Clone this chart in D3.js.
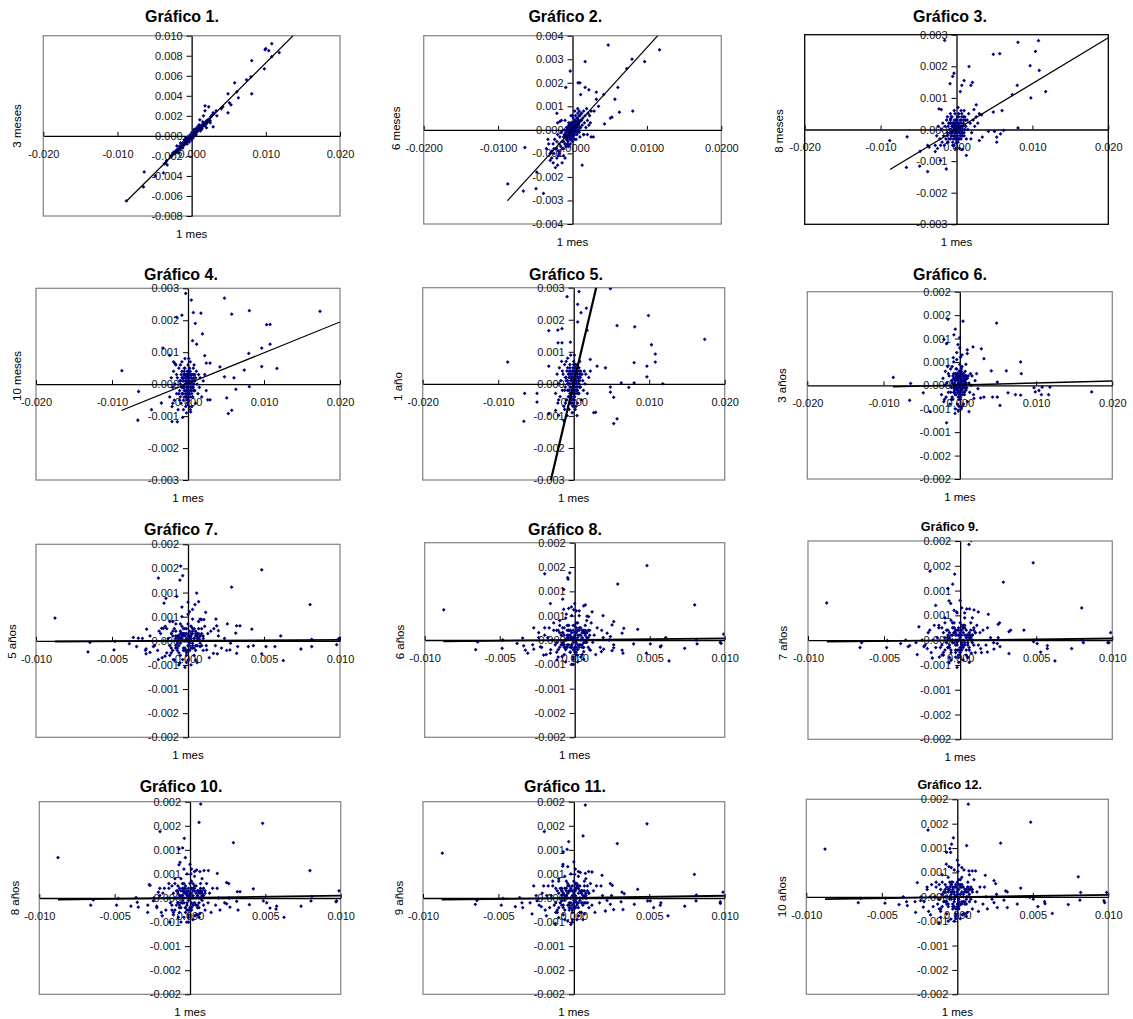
<!DOCTYPE html>
<html>
<head>
<meta charset="utf-8">
<script src="https://cdn.jsdelivr.net/npm/d3@7"></script>
<style>
  body { margin: 0; background: #fff; }
  svg { display: block; }
  text { font-family: "Liberation Sans", Arial, sans-serif; }
</style>
</head>
<body>
<svg id="chart" width="1133" height="1019"></svg>
<script>
// Daily changes of the yield curve against the 1-month rate.
// All values are in basis points (1 bp = 0.0001).

const chartTitles = ["Gráfico 1.", "Gráfico 2.", "Gráfico 3.", "Gráfico 4.", "Gráfico 5.", "Gráfico 6.",
  "Gráfico 7.", "Gráfico 8.", "Gráfico 9.", "Gráfico 10.", "Gráfico 11.", "Gráfico 12."];
const yTitles = ["3 meses", "6 meses", "8 meses", "10 meses", "1 año", "3 años",
  "5 años", "6 años", "7 años", "8 años", "9 años", "10 años"];
const xTitle = "1 mes";

// tick positions (bp) and their printed labels
const xTicksWide = [-200, -100, 0, 100, 200];
const xLabelsWide = ["-0.020", "-0.010", "0.000", "0.010", "0.020"];
const xLabelsWide4 = ["-0.0200", "-0.0100", "0.0000", "0.0100", "0.0200"];
const xTicksNarrow = [-100, -50, 0, 50, 100];
const xLabelsNarrow = ["-0.010", "-0.005", "0.000", "0.005", "0.010"];

const yTicks3m = [-80, -60, -40, -20, 0, 20, 40, 60, 80, 100];
const yLabels3m = ["-0.008", "-0.006", "-0.004", "-0.002", "0.000", "0.002", "0.004", "0.006", "0.008", "0.010"];
const yTicks6m = [-40, -30, -20, -10, 0, 10, 20, 30, 40];
const yLabels6m = ["-0.004", "-0.003", "-0.002", "-0.001", "0.000", "0.001", "0.002", "0.003", "0.004"];
const yTicks3 = [-30, -20, -10, 0, 10, 20, 30];
const yLabels3 = ["-0.003", "-0.002", "-0.001", "0.000", "0.001", "0.002", "0.003"];
const yTicksHalf = [-20, -15, -10, -5, 0, 5, 10, 15, 20];
const yLabelsHalf = ["-0.002", "-0.002", "-0.001", "-0.001", "0.000", "0.001", "0.001", "0.002", "0.002"];

// observations as flat [x, y, x, y, ...] lists, x = 1 mes
const g1 = [-88,-65, -65,-51, -64,-36, -49,-40, -38,-37, -37,-28, -34,-25, -28,-21, -25,-17, -35,-27, -33,-29,
  108,92, 99,86, 100,87, 104,85, 118,83, 108,79, 81,75, 98,67, 74,56, 80,59, 58,53, 61,44, 63,38, 81,42, 49,42,
  51,33, 53,31, 49,23, 42,29, 40,27, 33,25, 29,23, 34,20, 18,30, 23,29, 18,25, 11,16, 29,9, 16,20, 25,13, 20,8,
  -28,-20, -26,-19, -25,-17, -24,-18, -23,-16, -22,-17, -21,-15, -20,-14, -19,-15, -18,-13, -17,-12, -16,-13,
  -15,-11, -14,-10, -13,-11, -12,-9, -11,-8, -10,-8, -9,-7, -8,-6, -7,-5, -6,-5, -5,-4, -4,-3, -3,-2, -2,-2,
  -1,-1, 0,0, 1,0, 2,1, 3,2, 4,3, 5,4, 6,4, 7,5, 8,6, 9,6, 10,7, 11,9, 12,8, 13,10, 14,10, 15,11, 16,12, 18,13,
  20,15, 22,16, 24,17, 26,19, 28,21, 30,22, -20,-10, -15,-7, -10,-4, -5,-1, 0,3, 5,7, 10,11, 15,14, -18,-17,
  -12,-12, -6,-8, 0,-4, 6,1, 12,5, 18,10, 24,14, -8,-2, 3,6, 8,9, 2,-2, -3,-6, 20,12, 25,15, 14,7,
  -15,-12, -14,-11, -13,-9, -12,-10, -11,-7, -10,-9, -9,-6, -8,-7, -7,-4, -6,-6, -5,-3, -4,-4, -3,-1, -2,-3,
  -1,0, 0,-1, 1,1, 2,0, 3,3, 4,2, 5,5, 6,3, 7,6, 8,5, 9,8, 10,6, 11,7, 12,10, 13,8, 14,11, -12,-7, -9,-8,
  -6,-3, -3,-4, 0,1, 3,1, 6,6, 9,5, 12,7, -10,-6, -7,-7, -4,-2, -1,-2, 2,2, 5,2, 8,7, 11,10, -16,-10, 16,10,
  -8,-4, 4,5, -2,1, 1,-2];
const c1 = [-10,-7, -9,-5, -8,-5, -7,-6, -6,-4, -5,-5, -4,-3, -3,-3, -2,-1, -1,-1, 0,0.5, 1,0.5, 2,2, 3,2,
  4,4, 5,3, 6,5, 7,4, 8,6, 9,7, 10,8, -9,-6, -7,-5, -5,-3, -3,-2, -1,0, 1,1, 3,3, 5,4, 7,6, 9,6, -6,-5,
  -2,-2, 2,1, 6,4, -4,-4, 0,-0.5, 4,3, -8,-7, 8,5, -20,-16, -17,-14, -14,-12, 17,11, 21,14, 27,20];

const g2 = [-87,-23, -66,-26, -49,-25, -39,-27, -48,-18, -64,-7.5, 13,-15, 48,36, 117,34, 80,30, 97,29, 73,26,
  17,29, -3,25, -9,18, 7.5,20, 10,20, 17,18, 22,17, 61,18, 57,13, 42,15, 32,16, 11,15, 63,7.5, 81,8, 51,5,
  53,5.4, 43,2.5, 29,8, 35,10, 32,13, -21,7, -17,3.5, -33,-4, -32,-6, -26,-14, -23,-16, -14,-14, 28,-3, 25,-3,
  15,-2, -7,-6, -19,-11, -21,-12, -30,-10, -28,-12, -25,-8, -35,-8, -30,-13, -20,-15, -18,-10, -12,-11, -10,-12,
  -28,-9, -26,-6, -25,-10, -24,-4, -22,-8, -21,-5, -20,-2, -19,-9, -18,-6, -17,-3, -16,-7, -15,-1, -14,-5,
  -13,-8, -12,-3, -11,0, -10,-6, -9,-2, -8,-4, -7,1, -6,-3, -5,-7, -4,0, -3,-2, -2,2, -1,-4, 0,1, 0,-2, 1,3,
  2,-1, 3,4, 4,0, 5,2, 6,5, 7,-1, 8,3, 9,6, 10,1, 11,4, 12,7, 13,2, 14,5, 15,8, 16,3, 17,6, 18,1, 19,9, 20,4,
  21,7, 22,2, 23,6, 24,3, 25,8, -20,3, -10,4, 0,6, 10,-3, 20,-2, -15,4, 5,-4, 15,-2, -5,3, 3,8, 7,9, -2,6,
  -12,-5, -11,-2, -10,-6, -9,-1, -8,-4, -7,0, -6,-5, -5,-2, -4,1, -3,-4, -2,-1, -1,2, 0,-3, 0,0, 1,3, 2,-2,
  3,1, 4,4, 5,-1, 6,2, 7,5, 8,0, 9,3, 10,6, 11,1, 12,4, -10,-3, -7,-3, -4,-3, -1,-1, 2,1, 5,2, 8,3, 11,4,
  -8,1, -5,2, -2,3, 1,5, 4,6, 7,7, -6,-7, -3,-6, 0,-5, 3,-4, 6,-2, 9,-1, -12,-8, 12,7, -9,-7, 9,8];
const c2 = [-8,-3, -7,-2, -6,-3, -5,-1, -4,-2, -3,0, -2,-1, -1,1, 0,-1, 1,0, 2,2, 3,0, 4,2, 5,1, 6,3, 7,2,
  8,4, -7,-4, -5,-3, -3,-2, -1,-2, 1,2, 3,2, 5,3, 7,4, -6,0, -4,1, -2,0, 0,2, 2,-1, 4,0, 6,1, -8,-1, 8,2,
  -3,-4, 3,-2, -1,3, 1,-3, 0,0.5, -2,2];

const g3 = [-15.6,28.2, 48.5,23.8, 57,24, 81,27.6, 108,28.1, 104,24.7, 97,20.2, 109,18.7, 117.5,12, 98,10,
  80,14, 73.5,11, 16.5,19.9, -3.3,17.8, -5,16.8, -8.5,14.5, 10,15.5, 21,14.9, 7,14, 19,14, 5,12, 26,7.8,
  23,6.3, 33,4.6, 48.5,5.5, 60,6, -7.7,3.4, -20,6.3, -23,6.5, 42,-0.6, 50,-0.6, 58,-1.4, 62,-0.3, 53,-4,
  53,-2.4, 81,0.5, -65,-2.3, -88,-3.5, -66,-12, -48.5,-11.6, -38,-13.3, -13.4,-12.5, -48,-6.9, -38,-5,
  -36,-5.6, -28,-7, -21,-9.8, 13,-8.2, 19,-3, 30,-3.5, 34,-2.4, 7.7,-6.3,
  -28,-5, -26,-2, -25,-6, -24,1, -22,-3, -21,-5, -20,0, -19,-4, -18,2, -17,-2, -16,-5, -15,1, -14,-3, -13,3,
  -12,-1, -11,-4, -10,2, -9,0, -8,-3, -7,4, -6,-1, -5,-5, -4,2, -3,-2, -2,5, -1,-1, 0,3, 0,-3, 1,1, 2,-4,
  3,4, 4,-1, 5,2, 6,-3, 7,5, 8,0, 9,3, 10,-2, 11,4, 12,1, 13,-3, 14,3, 15,0, 16,5, 18,2, 20,-1, 22,3, 24,1,
  26,4, 28,2, 30,5, -3,6, 2,7, -8,5, 6,6, -12,4, 10,6, -1,-6, 4,-6,
  -12,-2, -11,1, -10,-3, -9,0, -8,-1, -7,2, -6,-2, -5,1, -4,-3, -3,0, -2,2, -1,-1, 0,0, 0,3, 1,-2, 2,1,
  3,-1, 4,2, 5,0, 6,3, 7,-1, 8,1, 9,2, 10,-1, 11,3, 12,1, -10,2, -7,-2, -4,1, -1,3, 2,-3, 5,3, 8,-2, 11,0,
  -8,3, -5,-4, -2,-3, 1,4, 4,-3, 7,4, -6,4, -3,-5, 0,-4, 3,5, 6,-2, 9,4, -12,-4, 12,3];
const c3 = [-8,-1, -7,0, -6,1, -5,-1, -4,0, -3,1, -2,-1, -1,0, 0,1, 1,-1, 2,0, 3,1, 4,-1, 5,0, 6,1, 7,0,
  8,1, -7,-2, -5,2, -3,-2, -1,2, 1,-2, 3,2, 5,-2, 7,2, -6,-1, -4,2, -2,0.5, 0,-2, 2,2, 4,1, 6,-1, -8,2,
  8,-1, -3,3, 3,-3, -1,-3, 1,3, 0,0.5, -2,1.5];

const g4 = [-3,28.4, 4.4,26.3, 48,26.9, 7,22.4, 17,22.2, 57.5,21.9, 80.7,23, 173.7,22.8, -8,21.6, -15,20.9,
  9.6,19, 103.5,18.6, 108,18.7, 19,15.7, 6,13.6, 11.4,12.5, -33,11.3, -24,9, 22,8.9, 80,9.6, 97,11.3,
  108,12.5, 97,5.5, 117,4.9, 74,4.4, 42,5.4, 60.5,2, 48,2.3, -87,4.2, -65,-2.3, -66,-11.3, -48,-8, -35,-5.9,
  -21,-11.7, -14,-11.8, -7,-10.4, 3.5,-8.7, 53,-9.2, 57.5,-8.2, 51,-4.3, 63,-1.6, 80.7,-0.8, 26,-4.9,
  29,-4.9, 24,6.6, 29,6.6, -19,7, -17,6.4,
  -24,-4, -22,2, -21,-7, -20,-1, -19,4, -18,-5, -17,0, -16,6, -15,-3, -14,2, -13,-8, -12,5, -11,-2, -10,1,
  -9,-6, -8,7, -7,-1, -6,3, -5,-4, -4,8, -3,-7, -2,0, -1,4, 0,-3, 0,6, 1,-5, 2,2, 3,-8, 3,7, 4,-1, 5,3,
  6,-4, 7,5, 8,-2, 9,1, 10,-6, 11,4, 12,0, 13,-3, 14,3, 15,-1, 16,2, 18,-4, 20,1, 22,3, 24,-2, -6,-8,
  -2,-9, 2,-7, -10,6, -5,5, 1,8, 5,-7, -15,3, -20,-6, 8,6, -1,-6, -3,3, 2,4, -8,-3, 6,0,
  -12,-3, -11,1, -10,-4, -9,3, -8,-1, -7,2, -6,-5, -5,4, -4,-2, -3,1, -2,-4, -1,3, 0,0, 0,-2, 1,2, 2,-3,
  3,4, 4,-1, 5,1, 6,-4, 7,3, 8,0, 9,-2, 10,2, -10,0, -7,-3, -4,2, -1,-1, 2,0, 5,-2, 8,2, -8,4, -5,-1,
  -2,1, 1,-4, 4,3, 7,-1, -6,1, -3,-3, 0,4, 3,-2, 6,1, 9,3, -11,-5, -1,-5, 2,5, -4,5, 1,0, -2,-1];
const c4 = [-8,-1, -7,1, -6,2, -5,-2, -4,0, -3,2, -2,-2, -1,1, 0,2, 1,-1, 2,1, 3,-2, 4,0, 5,2, 6,-1, 7,1,
  8,-2, -7,-3, -5,3, -3,-3, -1,3, 1,-3, 3,3, 5,-3, 7,3, -6,-1, -4,3, -2,0.5, 0,-3, 2,3, 4,2, 6,1, -8,2,
  8,1, -3,-4, 3,-4, -1,-4, 1,4, 0,0.5, -2,2.5];

const g5 = [48.6,29.7, -8.8,27.2, 7,28.8, 5.3,24.8, 9.7,22.2, 16.8,23.6, 5.3,19.3, 17.7,16.7, 57.4,18.2,
  80.8,17.8, 99,21.3, 173.5,13.9, 103,12.2, 108,9.3, 108,6.8, 80,6.6, 97,5.5, 97,2.2, 118,0, 80,0.3,
  73,-1.1, 63,0.3, 48.6,-1, 48.6,-2.6, 53,-4.2, 53,-12.4, 57.4,-10.9, 26.5,-9, 29,-8.9, 42,5, 31,5.5,
  22,7.6, -21,16.8, -15.5,17.2, -33,16.6, -20.7,12.8, -15.5,12.8, -4.4,13, -87.4,6.8, -33,5.5, -65,-3,
  -66,-11.7, -48.6,-3, -48.6,-5.7, -33,-9.4, -24,-8.3, -8.8,-9.9, 4.4,-9.9, -13,-11.5, -20,-9.8,
  -24,-3, -22,3, -21,-6, -20,0, -19,5, -18,-4, -17,1, -16,7, -15,-2, -14,3, -13,-7, -12,6, -11,-1, -10,2,
  -9,-5, -8,8, -7,0, -6,4, -5,-3, -4,9, -3,-6, -2,1, -1,5, 0,-2, 0,7, 1,-4, 2,3, 3,-7, 3,6, 4,0, 5,4,
  6,-3, 7,5, 8,-1, 9,2, 10,-5, 11,3, 12,1, 13,-2, 14,4, 15,0, 16,3, 18,-3, 20,2, 22,4, -6,-8, -2,-9,
  2,-8, -10,7, -5,6, 1,9, 5,-6, -15,4, -20,-5, 8,7, -1,-7, -3,2, 2,5, -8,-2, 6,1, -12,-8,
  -12,-2, -11,2, -10,-5, -9,4, -8,0, -7,3, -6,-4, -5,5, -4,-1, -3,2, -2,-5, -1,4, 0,1, 0,-3, 1,3, 2,-2,
  3,5, 4,0, 5,2, 6,-3, 7,4, 8,1, 9,-1, 10,3, -10,1, -7,-2, -4,3, -1,0, 2,1, 5,-1, 8,3, -8,5, -5,0, -2,2,
  1,-5, 4,4, 7,0, -6,2, -3,-2, 0,6, 3,-1, 6,2, 9,4, -11,-6, -1,-6, 2,6, -4,-6, 1,-1, -2,0];
const c5 = [-8,-2, -7,0, -6,3, -5,-1, -4,1, -3,3, -2,-3, -1,0, 0,2, 1,-2, 2,0, 3,-3, 4,1, 5,3, 6,0, 7,2,
  8,-1, -7,-4, -5,2, -3,-4, -1,4, 1,-4, 3,2, 5,-2, 7,-3, -6,-2, -4,4, -2,1, 0,-4, 2,4, 4,-2, 6,2, -8,1,
  8,3, -3,1, 3,3, -1,-2, 1,1, 0,-1, -2,3];

const g6 = [48.3,13.3, 4.2,13.7, -15.5,14.1, -5.9,12, -0.2,10.2, -2.4,8.7, -20.8,9.8, -7.7,10.8, -17.3,8.9,
  17.3,8.2, 9.8,7.6, 28.2,7.8, 31.7,5.7, 9.8,6.8, -8.5,5.9, 79.8,5, 80.7,2.5, 61,3.1, 41.3,3.1, 49.2,0.7,
  -87.2,1.7, -64.5,0.4, -65.8,-3.2, -47.9,-1.6, -39,-5.6, -17.3,-8, -6.3,-6, 12,-5.6, 52.7,-4.3, 43,-2.5,
  49.2,-2.5, 63.2,-1.6, 73,-2, 79.8,-2.1, 97.3,-0.5, 99,-1.4, 103.8,-1.1, 107,-2, 108,-0.4, 116.5,-2,
  118.2,-0.4, 173,-1.4, 27.3,-2.7, 31.7,-2.5, 18.6,-2.8, 23.8,-0.7,
  -24,-2, -22,1.5, -21,-3.5, -20,0, -19,3, -18,-2.5, -17,0.5, -16,4, -15,-1.5, -14,2, -13,-4, -12,3.5,
  -11,-0.5, -10,1, -9,-3, -8,5, -7,0, -6,2.5, -5,-2, -4,5.5, -3,-4, -2,0.5, -1,3, 0,-1.5, 0,4.5, 1,-3, 2,2,
  3,-4.5, 3,4, 4,0, 5,2.5, 6,-2, 7,3, 8,-1, 9,1.5, 10,-3.5, 11,2, 12,0.5, 13,-1.5, 14,2.5, 15,0, 16,2,
  18,-2, 20,1, 22,2.5, -6,-5, -2,-5.5, 2,-5, -10,4, -5,3.5, 1,6, 5,-4, -15,2.5, -20,-3, 8,4.5, -1,-4.5,
  -3,1.5, 2,3, -8,-1.5, 6,0.5, -4,7, 0,8, 3,6.5,
  -12,-1.5, -11,1, -10,-2.5, -9,2, -8,0, -7,1.5, -6,-2, -5,2.5, -4,-0.5, -3,1, -2,-2.5, -1,2, 0,0.5, 0,-1.5,
  1,1.5, 2,-1, 3,2.5, 4,0, 5,1, 6,-1.5, 7,2, 8,0.5, 9,-0.5, 10,1.5, -10,0.5, -7,-1, -4,1.5, -1,0, 2,0.5,
  5,-0.5, 8,1.5, -8,2.5, -5,0, -2,1, 1,-2.5, 4,2, 7,0, -6,1, -3,-1, 0,3, 3,-0.5, 6,1, 9,2, -11,-3, -1,-3,
  2,3.5, -4,3.5, 1,-0.5, -2,-0.5];
const c6 = [-8,-0.5, -7,0.5, -6,1.5, -5,-1, -4,0, -3,1.5, -2,-1, -1,0.5, 0,1.5, 1,-0.5, 2,1, 3,-1, 4,0,
  5,1.5, 6,-0.5, 7,1, 8,-1, -7,-1.5, -5,2, -3,-1.5, -1,2, 1,-1.5, 3,2, 5,-1.5, 7,2, -6,-0.5, -4,2, -2,0.5,
  0,-1.5, 2,2, 4,1, 6,0.5, -8,1.5, 8,0.5, -3,2.5, 3,-2, -1,-2, 1,2.5, 0,0, -2,1.5];

const g7 = [-87.5,4.7, -4.8,15.5, -3.5,13.5, -5.3,12.6, -19.5,13, -14.5,8.8, -15.8,7.8, -7.5,9.2, 5.7,9.9,
  7,8.1, 4.6,7.5, 28.7,11.1, 48.5,14.7, 80.3,7.5, 11.6,5.9, 9,4.4, 10.5,4.4, 18.4,4.5, 25.9,3.5, 32,3.1,
  34.2,3.1, 42,2.4, 31.4,1.6, 61,1, 81.4,0.3, 81.4,-1.2, 99,0.35, 97.8,-0.8, 99.6,0.55, 74.3,-1.7, 62.7,-4.1,
  48.5,-2.7, 51.3,-1.2, 57.2,-1.2, 43,-1, 39.7,-1.2, 32.7,-1.2, 32,-2.6, 25.4,-2, 27.6,-1.9, 19.3,-2.7,
  -27.2,2.4, -32.7,0.55, -36,0.7, -38.6,-0.6, -48,-0.1, -48.7,-1.9, -64.5,-0.35, -65.8,-2.3, -33.8,-1.2,
  -27.6,-1.7, -27.6,-2.7, -22.8,-1.2, -25,-2.4, -19.5,-3.9, -15.1,-3.2, -9.6,-3.9, -5.3,-4.6, -3.5,-3.9,
  7.9,-1.2, 12.3,-1.9, 16.7,-2.6, -17.3,2.6, -16.2,2.6, 18.9,3.1, 20,2.1,
  -20,-2, -18,1.5, -17,-3.5, -16,0, -15,3, -14,-2.5, -13,0.5, -12,4, -11,-1.5, -10,2, -9,-4, -8,3.5,
  -7,-0.5, -6,1, -5,-3, -4,5, -3,0, -2,2.5, -1,-2, 0,5.5, 0,-4, 1,0.5, 2,3, 3,-1.5, 3,4.5, 4,-3, 5,2,
  6,-4.5, 7,4, 8,0, 9,2.5, 10,-2, 11,3, 12,-1, 13,1.5, 14,-3.5, 15,2, -6,-5, -2,-5.5, 2,-5, -10,4, -5,3.5,
  1,6, 5,-4, -14,2.5, 8,4.5, -1,-4.5, -3,1.5, 2,1, -8,-1.5, 6,0.5, -4,7, 0,8, 3,6.5, -22,-1, -25,1, 18,-1,
  20,1, 17,2.5, -19,2, 10,0.5, -12,-3, -30,0.5, -28,-2, 24,0.5, 28,-0.5, 22,-1.5,
  -12,-1, -11,1.5, -10,-2, -9,2.5, -8,0.5, -7,1, -6,-2.5, -5,2, -4,0, -3,1.5, -2,-2, -1,2.5, 0,0, 0,-1,
  1,1, 2,-1.5, 3,2, 4,0.5, 5,1.5, 6,-1, 7,2.5, 8,0, 9,-1, 10,1, -10,1, -7,-1.5, -4,1, -1,0.5, 2,0, 5,-1,
  8,1, -8,2, -5,0.5, -2,1.5, 1,-2, 4,2.5, 7,0.5, -6,0.5, -3,-1.5, 0,3.5, 3,-1, 6,1.5, 9,1.5, -11,-2.5,
  -1,-3, 2,3, -4,3, 1,-0.5, -2,0];
const c7 = [-8,-1, -7,0, -6,1, -5,-0.5, -4,0.5, -3,1, -2,-1.5, -1,0, 0,1, 1,-1, 2,0.5, 3,-0.5, 4,0.5, 5,1,
  6,-1, 7,0.5, 8,-0.5, -7,-2, -5,1.5, -3,-2, -1,1.5, 1,-2, 3,1.5, 5,-2, 7,1.5, -6,-1, -4,1.5, -2,0, 0,-2,
  2,1.5, 4,-1.5, 6,1, -8,1, 8,1, -3,2.5, 3,2.5, -1,-2.5, 1,2, 0,0, -2,1];

const g8 = [-87.3,6.2, -20,13.6, -3.3,13.8, -4.7,12.8, -4.4,12.5, -7.3,10.4, -8,8.4, -16.2,7.5, -7.3,6.3,
  -5.6,5.3, 6,7, 7.1,7.2, -2.2,6.8, -0.7,6.2, 28.7,11.5, 48.2,15.3, 80,7.2, 11.6,5.8, 18.9,5, 9.3,4.8,
  8.2,4.9, 26,3.8, 24.9,3.1, 32.7,2.4, 31.6,1.4, 42,2.2, 23.8,0.7, 21.6,1.4, 60.7,0.5, 99.3,1.2, 97.1,-0.5,
  97.6,-0.7, 80.9,0, 81.6,-0.8, 73.3,-1.7, 62.9,-4.3, 47.8,-2.7, 57.1,-1.4, 57.6,-1.2, 50.4,-0.8,
  39.3,-0.8, 31.6,-2.1, 32.2,-2.7, 26,-1.6, 17.8,-2.4, 19.3,-1.9, 24.9,-2.2, -64.7,-0.4, -66,-2, -48,0,
  -48.4,-1.7, -38.4,-0.7, -34.7,0.4, -34,-1.2, -32.9,-2.1, -31.3,-2.7, -27.3,-1.9, -27.3,2.5, -24,1.5,
  -22.9,-1.4, -20.7,-3.1, -16.2,-2.7, -11.8,-4.1, -8.4,-3.4, 1.6,-3.1, 6,-2.4, 10.4,-2.1,
  -22,-1.5, -20,1, -19,-3, -18,0.5, -17,2.5, -16,-2, -15,0, -14,3.5, -13,-1, -12,2, -11,-3.5, -10,3,
  -9,-1, -8,1.5, -7,-3, -6,4.5, -5,0.5, -4,2, -3,-2.5, -2,5, -1,-4, 0,1, 0,-2, 1,3.5, 2,-1, 3,5, 4,-3.5,
  5,1.5, 6,-4, 7,3, 8,0.5, 9,2, 10,-2, 11,3.5, 12,-0.5, 13,1, 14,-3, 15,2.5, -6,-4.5, -2,-5, 2,-4.5,
  -10,4, -5,3, 1,6, 5,-3, -14,2, 8,4, -1,-5, -3,1, 2,2, -8,-1, 6,0, -4,6.5, 0,7.5, 3,6, -24,0.5, 17,-1.5,
  19,0.5, 18,2, -20,2.5, 10,1, -12,-2.5, -28,-1, 23,0, 26,-1,
  -12,-0.5, -11,2, -10,-1.5, -9,1, -8,-0.5, -7,2.5, -6,-2, -5,1, -4,-1, -3,2, -2,-1.5, -1,3, 0,0.5,
  0,-1.5, 1,1.5, 2,-2, 3,1, 4,0, 5,2, 6,-1.5, 7,1.5, 8,-0.5, 9,0.5, 10,2, -10,1.5, -7,-1, -4,0.5,
  -1,-0.5, 2,0.5, 5,-1, 8,1.5, -8,2.5, -5,-1.5, -2,0.5, 1,-2.5, 4,2.5, 7,-0.5, -6,0, -3,-2.5, 0,3,
  3,-1.5, 6,2, 9,-1.5, -11,-2, -1,-3.5, 2,3.5, -4,3, 1,0, -2,-1];
const c8 = [-8,-0.5, -7,1, -6,0, -5,-1, -4,1, -3,0.5, -2,-1, -1,0.5, 0,1.5, 1,-0.5, 2,1, 3,-1, 4,1, 5,0.5,
  6,-0.5, 7,1, 8,0, -7,-1.5, -5,2, -3,-1.5, -1,2, 1,-1.5, 3,2, 5,-1.5, 7,2, -6,-1.5, -4,2, -2,0.5, 0,-2.5,
  2,2, 4,-1, 6,1.5, -8,1.5, 8,1.5, -3,2, 3,2.5, -1,-2, 1,2.5, 0,0, -2,1.5];

const g9 = [-87.7,7.5, 5.8,19.3, 7.3,20.1, 48,15.6, 28.4,11.7, -19.8,13.9, -3.6,13.3, -4.9,11.3, -8,10.4,
  -7.3,7.9, -6.2,7.4, -16.1,7, 79.9,6.5, 4.3,6.3, 6.2,6.3, 9.1,6.1, 11.9,5.7, -2.3,5.7, 18.5,5.2, 25,3.2,
  25.9,3.5, 33.2,2, 32.1,1.7, 41.9,2, 98.9,1.5, 97.8,-0.5, 97.1,-0.5, 81,-0.5, 80.3,0, 73.3,-1.7,
  62.3,-4.2, 48.3,-0.3, 50.6,-0.7, 57.3,-1.1, 57.3,-1.7, 52.9,-2.4, 24.4,-0.7, 26.2,-1.3, 32.1,-2.7,
  22.2,-1.8, 13.5,-1.7, 17.9,-2.4, -65.8,-1.5, -64.7,-0.5, -48.3,-1.5, -47.9,-0.1, -39.1,-0.7, -35.8,0,
  -34.1,-1.3, -33.2,-1.1, -28.2,-2.9, -27.1,2.7, -23.8,-1.3, -21.6,-1.7, -18.3,-3.6, -13.7,-3.4,
  -7.3,-4.6, -3,-3.4, 4.7,-3.4, 7.3,-2.6,
  -23,-1, -21,1.5, -19,-2.5, -18,0, -17,3, -16,-1.5, -15,0.5, -14,3, -13,-1.5, -12,2.5, -11,-3, -10,3.5,
  -9,-0.5, -8,1, -7,-3.5, -6,4, -5,0, -4,2.5, -3,-2, -2,5.5, -1,-3.5, 0,1.5, 0,-2.5, 1,3, 2,-1.5, 3,4.5,
  4,-3, 5,1, 6,-4.5, 7,3.5, 8,0, 9,2.5, 10,-2.5, 11,3, 12,-1, 13,1.5, 14,-2.5, 15,2, -6,-4, -2,-5.5, 2,-4,
  -10,4.5, -5,3.5, 1,6.5, 5,-3.5, -14,2.5, 8,4.5, -1,-4.5, -3,1.5, 2,2.5, -8,-1.5, 6,0.5, -4,6, 0,8,
  3,5.5, -25,0, 17,-1, 20,0.5, 18,2.5, -20,2, 10,1.5, -12,-3, -29,-0.5, 22,-0.5, 25,0.5,
  -12,-1, -11,1.5, -10,-2, -9,2, -8,0, -7,1.5, -6,-2.5, -5,2.5, -4,-0.5, -3,1, -2,-2, -1,2, 0,0, 0,-1.5,
  1,1, 2,-1, 3,2.5, 4,0.5, 5,1, 6,-2, 7,2, 8,0, 9,-1, 10,1.5, -10,0.5, -7,-1.5, -4,1.5, -1,0, 2,0,
  5,-0.5, 8,1, -8,2, -5,0, -2,1, 1,-2, 4,2, 7,0.5, -6,1, -3,-1, 0,3.5, 3,-1, 6,1.5, 9,2, -11,-2.5, -1,-3,
  2,3, -4,3.5, 1,-0.5, -2,-0.5];
const c9 = [-8,-1.5, -7,0.5, -6,0, -5,-0.5, -4,1.5, -3,0, -2,-1, -1,1, 0,0.5, 1,-1.5, 2,1.5, 3,-0.5, 4,1,
  5,0, 6,-1.5, 7,0, 8,1, -7,-1, -5,1, -3,-2.5, -1,2.5, 1,-1, 3,1, 5,-1, 7,1, -6,-2, -4,2.5, -2,0,
  0,-2, 2,2.5, 4,-2, 6,1, -8,0.5, 8,-0.5, -3,2, 3,3, -1,-2, 1,2, 0,1, -2,2];

const g10 = [-87.6,8.4, 7.1,19.5, 6,15.7, 48.2,15.5, 28.8,11.5, -19.9,13.8, -3.8,12.4, -4.9,10.4, -7.3,10.2,
  -3.1,8.4, -6.6,7.4, -7.3,6.9, 79.6,5.7, 4.4,5.8, 6.6,5.5, 9.3,5.7, 12.2,5.7, 0.7,5, 18.1,5.1, 24.3,3.2,
  25.7,3, 31.4,1.3, 33.2,1.3, 42,1.9, 98.9,1.5, 97.3,-0.6, 96.9,-0.8, 80.8,0.3, 80.3,-0.6, 73.7,-1.7,
  62.4,-4, 48.7,-0.6, 50.9,-1, 57.5,-1.7, 57.1,-2.3, 53.1,-2.1, 39.4,-1.4, 31.9,-2.5, 31,-0.7, 24.3,-1.2,
  26.5,-1.9, 19.9,-2.5, -65.9,-1.5, -64.2,-0.4, -48.7,-1.5, -47.6,-0.1, -39.2,-1.7, -35.8,0.1, -35,-0.9,
  -34.3,-1.9, -28.1,-3, -27,2.8, -24.3,-0.6, -22.1,-1.7, -18.4,-3.7, -13.3,-5, -7.7,-4, -4,-4, 3.3,-3.7,
  6.6,-3.2, -26.5,2.6, -21,1.2,
  -22,-2, -20,0.5, -19,-3, -18,1, -17,2, -16,-2.5, -15,0, -14,3, -13,-1, -12,2.5, -11,-3.5, -10,3,
  -9,-1.5, -8,1, -7,-3, -6,4, -5,0.5, -4,2, -3,-3, -2,5, -1,-4, 0,1, 0,-2.5, 1,3.5, 2,-1.5, 3,4.5,
  4,-3.5, 5,1.5, 6,-4, 7,3, 8,0.5, 9,2, 10,-2.5, 11,3, 12,-1, 13,1, 14,-3, 15,2, -6,-5, -2,-5, 2,-4.5,
  -10,4, -5,3, 1,6, 5,-3.5, -14,2, 8,4, -1,-5, -3,1, 2,2, -8,-1, 6,0, -4,6, 0,7, 3,5.5, -24,0, 17,-1.5,
  19,0, 18,2, -20,2, 10,1, -12,-2.5, -28,-1.5, 23,-1, 26,0,
  -12,-1.5, -11,1, -10,-2.5, -9,1.5, -8,0, -7,2, -6,-2, -5,1.5, -4,-1, -3,2, -2,-2.5, -1,1.5, 0,0.5,
  0,-2, 1,1, 2,-1.5, 3,2, 4,0, 5,1.5, 6,-2, 7,2, 8,-0.5, 9,0.5, 10,1.5, -10,0, -7,-1.5, -4,1, -1,-0.5,
  2,0.5, 5,-1.5, 8,1.5, -8,2.5, -5,-0.5, -2,1, 1,-2.5, 4,2.5, 7,0, -6,0.5, -3,-2, 0,3, 3,-1, 6,1,
  9,-1.5, -11,-3, -1,-3.5, 2,3, -4,3, 1,0, -2,-1];
const c10 = [-8,-1, -7,0.5, -6,1.5, -5,-1, -4,0, -3,1, -2,-1.5, -1,0.5, 0,1, 1,-1, 2,0, 3,-1, 4,1, 5,0.5,
  6,-1, 7,1, 8,0, -7,-2, -5,2, -3,-2, -1,2, 1,-2, 3,1.5, 5,-2, 7,1.5, -6,-1, -4,1.5, -2,0.5, 0,-2.5,
  2,1.5, 4,-1.5, 6,1.5, -8,1.5, 8,1, -3,2.5, 3,2.5, -1,-2.5, 1,2, 0,0, -2,1.5];

const g11 = [-87.2,9.3, 7.6,19.3, 6.1,12.9, 48.5,15.4, 28.8,11.3, -19.6,13.8, -3.4,11.7, -4.5,10.1, -7,9.6,
  -7.2,7, -7.4,6.6, 79.9,4.9, 4.3,5.3, 7.6,5.1, 9.8,5.5, 12,5.4, 0.6,4.9, 18.7,4.7, 24.2,3, 25.5,2.6,
  31.9,1.2, 33.4,0.9, 42.3,1.8, 98.9,1.2, 97.1,-0.8, 97.1,-1.1, 81,-0.6, 81.2,0.6, 73.5,-1.7, 62.4,-3.7,
  48.9,-0.6, 50.7,-0.6, 57.3,-1.5, 57.7,-1, 52.9,-2, 40.1,-1.3, 32.6,-2.4, 31.3,-0.8, 24.2,-1.3,
  26.4,-2.4, 20.9,-2.7, -65.3,-1.3, -64.2,-0.5, -48.1,-1.5, -47,-0.1, -38.8,-1.8, -35.9,0.1, -34.4,-1,
  -33.9,-2, -27.7,-3.3, -26.6,2.5, -24.4,-0.6, -21.5,-1.8, -18.2,-3.7, -12.3,-5.3, -10.1,-4.1, -4.1,-4.8,
  3.2,-3.7, 7,-3.3,
  -23,-1.5, -21,1, -19,-2.5, -18,0.5, -17,2.5, -16,-2, -15,0.5, -14,3.5, -13,-1.5, -12,2, -11,-3, -10,3.5,
  -9,-1, -8,1.5, -7,-3.5, -6,4.5, -5,0, -4,2.5, -3,-2.5, -2,5, -1,-4.5, 0,1.5, 0,-2, 1,3, 2,-1, 3,4.5,
  4,-3, 5,1, 6,-4.5, 7,3.5, 8,0, 9,2.5, 10,-2, 11,3, 12,-1.5, 13,1.5, 14,-3, 15,2.5, -6,-4.5, -2,-5.5,
  2,-4.5, -10,4, -5,3.5, 1,6, 5,-3, -14,2.5, 8,4, -1,-5, -3,1.5, 2,2, -8,-1.5, 6,0.5, -4,6.5, 0,7.5,
  3,5.5, -25,0.5, 17,-1, 19,0.5, 18,2.5, -20,2.5, 10,1, -12,-3, -29,-1, 22,-0.5, 25,0.5,
  -12,-1, -11,1.5, -10,-2, -9,2, -8,0.5, -7,1, -6,-2.5, -5,2, -4,0, -3,1.5, -2,-2, -1,2.5, 0,0, 0,-1,
  1,1.5, 2,-1.5, 3,2, 4,0, 5,1.5, 6,-1, 7,2.5, 8,0, 9,-1, 10,1, -10,1, -7,-1.5, -4,1, -1,0.5, 2,0, 5,-1,
  8,1, -8,2, -5,0.5, -2,1.5, 1,-2, 4,2.5, 7,0.5, -6,0.5, -3,-1.5, 0,3.5, 3,-1, 6,1.5, 9,1.5, -11,-2.5,
  -1,-3, 2,3, -4,3, 1,-0.5, -2,0];
const c11 = [-8,-0.5, -7,1, -6,-0.5, -5,0.5, -4,1, -3,-1, -2,0, -1,1.5, 0,-0.5, 1,0.5, 2,-1, 3,1, 4,-0.5,
  5,1, 6,0, 7,-1, 8,0.5, -7,-2, -5,1.5, -3,-2, -1,-1.5, 1,2, 3,-2, 5,1.5, 7,1.5, -6,2, -4,-1.5, -2,2,
  0,-2, 2,2.5, 4,1.5, 6,-1.5, -8,1.5, 8,-1, -3,2.5, 3,2.5, -1,-2.5, 1,-2, 0,1, -2,-1];

const g12 = [-87.6,9.8, 7.3,19, 6.2,10.5, 48.6,15.3, 28.7,11, -19.4,13.7, -2.6,12.1, -3.8,10.8, -7.1,9.1,
  -4.9,9.9, -4.4,9.1, -7.3,6.7, -5.5,6.2, 80.1,4.1, 4.4,5.5, 7.7,5.3, 9.9,5.3, 12.1,5.3, 0.4,5.2,
  18.5,4.4, 24.3,3.3, 25.4,2.7, 32,1.2, 33.1,1, 42,1.8, 98.9,0.9, 97.1,-0.8, 97.6,-1.2, 81.7,0.9,
  81.2,-0.7, 73.5,-1.6, 62.9,-3.4, 48.1,-0.1, 50.3,-0.5, 57.8,-1, 58.1,-1.4, 53.4,-2, 39.7,-1.5,
  33.1,-2.2, 30.9,-0.7, 24.3,-1.2, 26.5,-2.2, 19.9,-2.5, -65.6,-1.2, -64,-0.3, -47.9,-1.3, -47.5,-0.3,
  -38.6,-1.6, -35.8,0, -33.6,-1, -33.1,-1.8, -27.6,-3.2, -26.5,2.9, -24.3,-0.8, -22.5,-2.1, -17.7,-3.7,
  -12.1,-5.3, -11,-4.2, -4.4,-4.6, 3.3,-3.7, 6.6,-3.2,
  -22,-1, -20,1.5, -19,-3, -18,0, -17,2.5, -16,-2, -15,0, -14,3, -13,-1.5, -12,2.5, -11,-3, -10,3,
  -9,-1, -8,1.5, -7,-3.5, -6,4, -5,0, -4,2.5, -3,-2.5, -2,5.5, -1,-4, 0,1, 0,-2.5, 1,3.5, 2,-1.5, 3,4,
  4,-3.5, 5,1.5, 6,-4, 7,3, 8,0.5, 9,2, 10,-2.5, 11,3.5, 12,-1, 13,1, 14,-3, 15,2, -6,-5, -2,-5, 2,-4.5,
  -10,4.5, -5,3, 1,6.5, 5,-3.5, -14,2, 8,4.5, -1,-4.5, -3,1, 2,2.5, -8,-1, 6,0, -4,6, 0,7.5, 3,6, -24,0,
  17,-1.5, 19,0, 18,2, -20,2, 10,1, -12,-2.5, -28,-1, 23,-0.5, 26,0.5,
  -12,-0.5, -11,1.5, -10,-2, -9,1, -8,0, -7,2, -6,-2, -5,1.5, -4,-0.5, -3,2, -2,-2, -1,2.5, 0,0.5,
  0,-1.5, 1,1.5, 2,-1.5, 3,2, 4,0.5, 5,1, 6,-1.5, 7,2, 8,0, 9,-0.5, 10,1.5, -10,0.5, -7,-1, -4,1, -1,0,
  2,0.5, 5,-1, 8,1.5, -8,2.5, -5,0, -2,1, 1,-2.5, 4,2, 7,0, -6,1, -3,-1.5, 0,3, 3,-1, 6,1.5, 9,1.5,
  -11,-2.5, -1,-3.5, 2,3.5, -4,3, 1,-0.5, -2,-0.5];
const c12 = [-8,-1, -7,0, -6,1.5, -5,-0.5, -4,0.5, -3,1.5, -2,-1, -1,0, 0,1.5, 1,-1, 2,0.5, 3,-1.5, 4,0,
  5,1, 6,-0.5, 7,1, 8,-1, -7,-1.5, -5,2, -3,-2, -1,2, 1,-2, 3,1, 5,-1.5, 7,2, -6,-1.5, -4,2.5, -2,0.5,
  0,-2, 2,2, 4,-1, 6,1, -8,1, 8,1.5, -3,3, 3,2.5, -1,-2.5, 1,2.5, 0,0, -2,2];

const series = [g1.concat(c1), g2.concat(c2), g3.concat(c3), g4.concat(c4), g5.concat(c5), g6.concat(c6),
  g7.concat(c7), g8.concat(c8), g9.concat(c9), g10.concat(c10), g11.concat(c11), g12.concat(c12)];

// least-squares trend of each panel: y = slope * x + intercept (bp)
const trendSlope = [0.7356, 0.347, 0.1448, 0.0963, 1.0, 0.00418, 0.00186, 0.00329, 0.0033, 0.00443, 0.0044, 0.0048];
const trendIntercept = [-0.6, 0.26, 0.04, 0.2, 0.2, 0.08, 0.02, 0.02, 0.0, 0.035, 0.03, -0.07];
const trendSpan = [-87.6, 200];

// ---- layout ----
const W = [-200, 200], N = [-100, 100];
const panels = [
  { box: [43.3, 35.7, 340, 216],       xDom: W, yDom: [-80, 100], xt: xTicksWide, xl: xLabelsWide, yt: yTicks3m, yl: yLabels3m, title: [182, 21.5, 16], ylab: [17, 125.9] },
  { box: [423.7, 35.7, 721.3, 224],    xDom: W, yDom: [-40, 40], xt: xTicksWide, xl: xLabelsWide4, yt: yTicks6m, yl: yLabels6m, title: [565.3, 21.5, 16], ylab: [395.5, 128.3] },
  { box: [804.7, 34.7, 1108.3, 224.3], xDom: W, yDom: [-30, 30], xt: xTicksWide, xl: xLabelsWide, yt: yTicks3, yl: yLabels3, title: [950, 21.5, 16], ylab: [779, 131], frame: "#000" },
  { box: [36, 288.3, 340, 480],        xDom: W, yDom: [-30, 30], xt: xTicksWide, xl: xLabelsWide, yt: yTicks3, yl: yLabels3, title: [181, 279.5, 16], ylab: [17, 376] },
  { box: [422.7, 287.7, 724.7, 480],   xDom: W, yDom: [-30, 30], xt: xTicksWide, xl: xLabelsWide, yt: yTicks3, yl: yLabels3, title: [566, 279.5, 16], ylab: [398, 386.5], lw: 2.2 },
  { box: [807.3, 291.7, 1112.3, 479],  xDom: W, yDom: [-20, 20], xt: xTicksWide, xl: xLabelsWide, yt: yTicksHalf, yl: yLabelsHalf, title: [950, 279.5, 16], ylab: [782, 385.5], lw: 1.5 },
  { box: [36, 544.3, 340, 737.3],      xDom: N, yDom: [-20, 20], xt: xTicksNarrow, xl: xLabelsNarrow, yt: yTicksHalf, yl: yLabelsHalf, title: [181, 535.3, 16], ylab: [12, 641.5], lw: 1.8 },
  { box: [424.7, 542.7, 724.7, 737.3], xDom: N, yDom: [-20, 20], xt: xTicksNarrow, xl: xLabelsNarrow, yt: yTicksHalf, yl: yLabelsHalf, title: [565, 535.3, 16], ylab: [400, 642], lw: 1.8 },
  { box: [808, 541, 1112.3, 739.3],    xDom: N, yDom: [-20, 20], xt: xTicksNarrow, xl: xLabelsNarrow, yt: yTicksHalf, yl: yLabelsHalf, title: [949.7, 531, 12.5], ylab: [783, 643], lw: 1.8 },
  { box: [39.3, 801.7, 340.7, 994.3],  xDom: N, yDom: [-20, 20], xt: xTicksNarrow, xl: xLabelsNarrow, yt: yTicksHalf, yl: yLabelsHalf, title: [181, 792.3, 16], ylab: [15, 898], lw: 1.8 },
  { box: [423, 801.7, 724.7, 994.3],   xDom: N, yDom: [-20, 20], xt: xTicksNarrow, xl: xLabelsNarrow, yt: yTicksHalf, yl: yLabelsHalf, title: [565, 792.3, 16], ylab: [399, 898], lw: 1.8 },
  { box: [806.3, 799.3, 1108.3, 994.3], xDom: N, yDom: [-20, 20], xt: xTicksNarrow, xl: xLabelsNarrow, yt: yTicksHalf, yl: yLabelsHalf, title: [949.7, 789, 12.5], ylab: [782, 896.7], lw: 1.8 }
];

const FONT = '"Liberation Sans", Arial, sans-serif';
const svg = d3.select("#chart");
svg.append("rect").attr("width", 1133).attr("height", 1019).attr("fill", "#fff");
const defs = svg.append("defs");
const marker = d3.symbol().type(d3.symbolDiamond2 || d3.symbolDiamond).size(9);

panels.forEach((p, i) => {
  const [l, t, r, b] = p.box;
  const x = d3.scaleLinear().domain(p.xDom).range([l, r]);
  const y = d3.scaleLinear().domain(p.yDom).range([b, t]);
  const g = svg.append("g");

  const clipId = "plot-clip-" + i;
  defs.append("clipPath").attr("id", clipId)
    .append("rect").attr("x", l).attr("y", t).attr("width", r - l).attr("height", b - t);

  // plot area frame
  g.append("rect").attr("x", l).attr("y", t).attr("width", r - l).attr("height", b - t)
    .attr("fill", "none").attr("stroke", p.frame || "#8a8a8a").attr("stroke-width", 1.3);

  // value axes crossing at the origin
  const yAxis = d3.axisLeft(y).tickValues(p.yt).tickFormat((d, k) => p.yl[k])
    .tickSizeInner(5).tickSizeOuter(0).tickPadding(4);
  const ya = g.append("g").attr("transform", `translate(${x(0)},0)`).call(yAxis);

  const xAxis = d3.axisBottom(x).tickValues(p.xt).tickFormat((d, k) => p.xl[k])
    .tickSizeInner(-4).tickSizeOuter(0).tickPadding(14);
  const xa = g.append("g").attr("transform", `translate(0,${y(0)})`).call(xAxis);

  [ya, xa].forEach(a => {
    a.attr("font-size", 11).attr("font-family", FONT);
    a.select(".domain").attr("stroke", "#000").attr("stroke-width", 1.3);
    a.selectAll(".tick line").attr("stroke", "#000").attr("stroke-width", 1);
    a.selectAll(".tick text").attr("fill", "#111");
  });

  // observations
  const arr = series[i];
  const pts = d3.range(0, arr.length, 2).map(k => [arr[k], arr[k + 1]]);
  g.append("g").attr("clip-path", `url(#${clipId})`)
    .selectAll("path").data(pts).join("path")
    .attr("transform", d => `translate(${x(d[0])},${y(d[1])})`)
    .attr("d", marker)
    .attr("fill", "#000080");

  // linear trend line
  const line = d3.line().x(d => x(d)).y(d => y(trendSlope[i] * d + trendIntercept[i]));
  g.append("path").attr("clip-path", `url(#${clipId})`)
    .attr("d", line(trendSpan))
    .attr("fill", "none").attr("stroke", "#000").attr("stroke-width", p.lw || 1.2);

  // titles
  g.append("text").attr("x", p.title[0]).attr("y", p.title[1])
    .attr("text-anchor", "middle").attr("font-weight", "bold").attr("font-size", p.title[2])
    .attr("font-family", FONT).text(chartTitles[i]);

  g.append("text").attr("x", x(0)).attr("y", b + 22)
    .attr("text-anchor", "middle").attr("font-size", 11.5).attr("font-family", FONT).text(xTitle);

  g.append("text")
    .attr("transform", `translate(${p.ylab[0] + 4},${p.ylab[1]}) rotate(-90)`)
    .attr("text-anchor", "middle").attr("font-size", 11.5).attr("font-family", FONT).text(yTitles[i]);
});
</script>
</body>
</html>
